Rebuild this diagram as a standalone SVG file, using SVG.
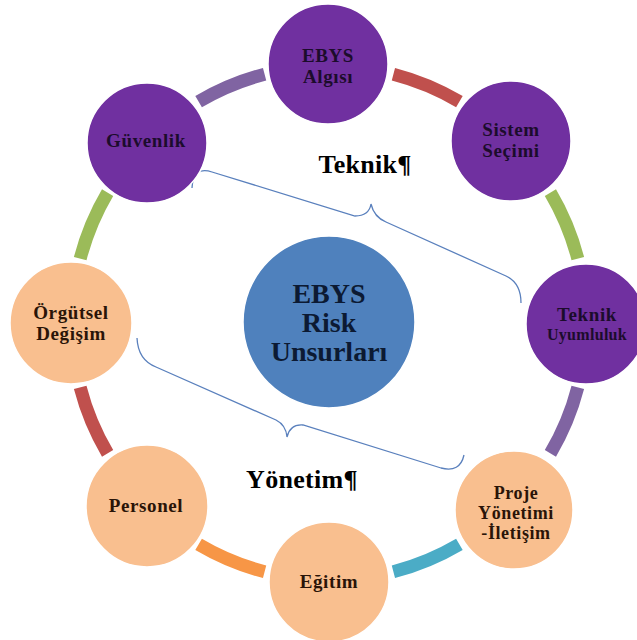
<svg xmlns="http://www.w3.org/2000/svg" width="637" height="640" viewBox="0 0 637 640">
<style>
text{font-family:"Liberation Serif","Times New Roman",serif;font-weight:bold;text-anchor:middle}
.arc{fill:none;stroke-width:13;stroke-linecap:butt}
.pn{fill:#7030A0;stroke:#ffffff;stroke-width:1.5}
.on{fill:#F9BF8F;stroke:#ffffff;stroke-width:1.5}
.cn{fill:#4F81BD;stroke:#ffffff;stroke-width:1.5}
.pt{fill:#1c0c2c;font-size:19px;letter-spacing:0.6px}
.ot{fill:#2a1408;font-size:19px;letter-spacing:0.6px}
.ct{fill:#0c1a33;font-size:28px}
.lbl{fill:#000000;font-size:26px;letter-spacing:0.3px}
.brace{fill:none;stroke:#5a80bd;stroke-width:1.3}
</style>
<rect width="637" height="640" fill="#ffffff"/>
<g id="connectors">
<path class="arc" stroke="#C0504D" d="M393.4,74.2 A257,257 0 0 1 459.4,101.6"/>
<path class="arc" stroke="#9BBB59" d="M550.4,192.6 A257,257 0 0 1 577.8,258.6"/>
<path class="arc" stroke="#8064A2" d="M577.8,387.4 A257,257 0 0 1 550.4,453.4"/>
<path class="arc" stroke="#4BACC6" d="M459.4,544.4 A257,257 0 0 1 393.4,571.8"/>
<path class="arc" stroke="#F79646" d="M264.6,571.8 A257,257 0 0 1 198.6,544.4"/>
<path class="arc" stroke="#C0504D" d="M107.6,453.4 A257,257 0 0 1 80.2,387.4"/>
<path class="arc" stroke="#9BBB59" d="M80.2,258.6 A257,257 0 0 1 107.6,192.6"/>
<path class="arc" stroke="#8064A2" d="M198.6,101.6 A257,257 0 0 1 264.6,74.2"/>
</g>
<g id="braces">
<path class="brace" d="M192,188 Q193,166 212,172 L355,216 Q369,216 371,204 Q374,217 386,222 L506,276 Q521,283 521,303"/>
<path class="brace" d="M137,338 Q138,360 156,367 L276,420 Q286,425 287,437 Q290,424 303,425 L441,468 Q460,473 464,455"/>
</g>
<g id="center">
<circle class="cn" cx="329" cy="322" r="86"/>
<text class="ct" x="329" y="303">EBYS</text>
<text class="ct" x="329" y="332">Risk</text>
<text class="ct" x="329" y="361">Unsurları</text>
</g>
<g id="ebys-algisi">
<circle class="pn" cx="328" cy="64" r="60"/>
<text class="pt" x="328" y="62">EBYS</text>
<text class="pt" x="328" y="83">Algısı</text>
</g>
<g id="sistem-secimi">
<circle class="pn" cx="511" cy="141" r="60"/>
<text class="pt" x="511" y="136">Sistem</text>
<text class="pt" x="511" y="157">Seçimi</text>
</g>
<g id="teknik-uyumluluk">
<circle class="pn" cx="586" cy="324" r="60"/>
<text class="pt" x="587" y="321">Teknik</text>
<text class="pt" x="587" y="340" style="font-size:16px;letter-spacing:0.3px">Uyumluluk</text>
</g>
<g id="proje-yonetimi">
<circle class="on" cx="514" cy="510" r="59"/>
<text class="ot" x="516" y="499" style="font-size:18px">Proje</text>
<text class="ot" x="516" y="519" style="font-size:18px">Yönetimi</text>
<text class="ot" x="516" y="539" style="font-size:18px">-İletişim</text>
</g>
<g id="egitim">
<circle class="on" cx="329" cy="582" r="60"/>
<text class="ot" x="329" y="588">Eğitim</text>
</g>
<g id="personel">
<circle class="on" cx="147" cy="506" r="61"/>
<text class="ot" x="146" y="512">Personel</text>
</g>
<g id="orgutsel-degisim">
<circle class="on" cx="71" cy="323" r="61"/>
<text class="ot" x="71" y="319">Örgütsel</text>
<text class="ot" x="71" y="340">Değişim</text>
</g>
<g id="guvenlik">
<circle class="pn" cx="147" cy="143" r="60"/>
<text class="pt" x="146" y="147">Güvenlik</text>
</g>
<g id="labels">
<text class="lbl" x="365" y="173">Teknik¶</text>
<text class="lbl" x="302" y="488">Yönetim¶</text>
</g>
</svg>
